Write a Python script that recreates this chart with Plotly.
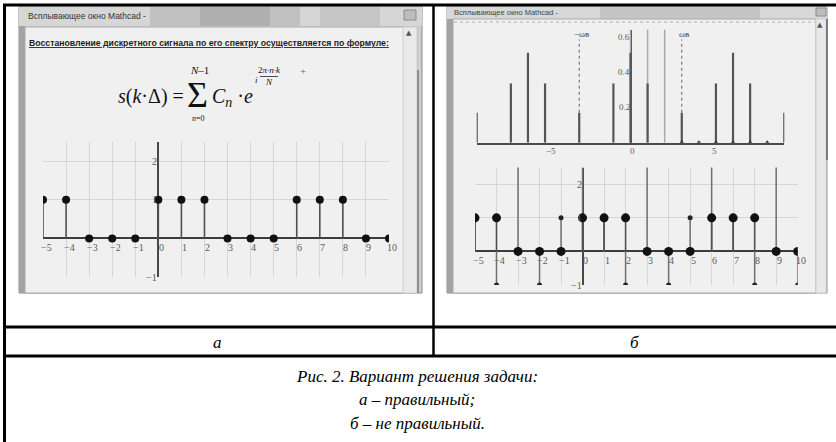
import math
import plotly.graph_objects as go

W, H = 836, 442

# ---------------- data ----------------
k_signal = list(range(-5, 11))
s_correct = [1, 1, 0, 0, 0, 1, 1, 1, 0, 0, 0, 1, 1, 1, 0, 0]
s_wrong = [1, -1, 3, -1, 1, 3, 1, -1, 3, -1, 1, 3, 1, -1, 3, -1]
sig_xtick_vals = list(range(-5, 11))
sig_xtick_text = ["−5", "−4", "−3", "−2", "−1", "0", "1", "2", "3", "4",
                  "5", "6", "7", "8", "9", "10"]
sig_ytick_vals = [2, 1, -1]
sig_ytick_text = ["2", "1", "−1"]

N = 6
k_spec = list(range(-9, 10))
spec_mag = [0.17, 0, 0.335, 0.51, 0.335, 0, 0.17, 0, 0.335, 0.51,
            0.335, 0, 0.17, 0, 0.335, 0.51, 0.335, 0, 0.17]
k_pulse = list(range(0, 9))
pulse_vals = [1, 1, 1, 0, 0, 0, 0, 0, 0]
wv_k = [-3, 3]
wv_top = [0.585, 0.585]
wv_text = ["−ωв", "ωв"]
spec_xtick_vals = [-5, 0, 5]
spec_xtick_text = ["−5", "0", "5"]
spec_ytick_vals = [0.2, 0.4, 0.6]
spec_ytick_text = ["0.2", "0.4", "0.6"]

cell_labels = ["а", "б"]
caption_lines = ["Рис. 2. Вариант решения задачи:",
                 "а – правильный;",
                 "б – не правильный."]
window_title = "Всплывающее окно Mathcad -"
formula_intro = "Восстановление дискретного сигнала по его спектру осуществляется по формуле:"


# ---------------- helpers ----------------
def px(x):
    return x / W


def py(y):
    return 1 - y / H


shapes = []
annotations = []


def rect(x0, y0, x1, y1, fill, line=None, lw=0, layer="below", opacity=1.0):
    shapes.append(dict(type="rect", xref="paper", yref="paper",
                       x0=px(x0), x1=px(x1), y0=py(y1), y1=py(y0),
                       fillcolor=fill, opacity=opacity, layer=layer,
                       line=dict(color=line or fill, width=lw)))


def hline(x0, x1, y, color, w, layer="below", dash="solid"):
    shapes.append(dict(type="line", xref="paper", yref="paper",
                       x0=px(x0), x1=px(x1), y0=py(y), y1=py(y), layer=layer,
                       line=dict(color=color, width=w, dash=dash)))


def vline(x, y0, y1, color, w, layer="below"):
    shapes.append(dict(type="line", xref="paper", yref="paper",
                       x0=px(x), x1=px(x), y0=py(y0), y1=py(y1), layer=layer,
                       line=dict(color=color, width=w)))


def text(x, y, t, size, family="Liberation Serif", color="#111",
         xanchor="center", yanchor="middle"):
    annotations.append(dict(x=px(x), y=py(y), xref="paper", yref="paper",
                            text=t, showarrow=False, xanchor=xanchor,
                            yanchor=yanchor,
                            font=dict(size=size, family=family, color=color)))


def stems(xs, ys):
    X, Y = [], []
    for x, y in zip(xs, ys):
        X += [x, x, None]
        Y += [0, y, None]
    return X, Y


# ---------------- window chrome ----------------
# left window
rect(19, 7, 422, 293, "#cfcfcf", "#8c8c8c", 1)
rect(19, 7, 422, 26, "#d6d6d6")
rect(150, 7, 300, 26, "#a8a8a8", opacity=0.45)
rect(200, 7, 270, 26, "#8e8e8e", opacity=0.35)
rect(320, 7, 380, 26, "#b0b0b0", opacity=0.4)
rect(19, 26, 25, 293, "#a3a3a3")
rect(25, 27, 417, 293, "#f0f0f0", "#a9a9a9", 1)
rect(403, 27, 417, 293, "#e9e9e9", "#d0d0d0", 1)
vline(418, 70, 293, "#8f8f8f", 2)
rect(404, 10, 416, 20, "#bdbdbd", "#8a8a8a", 1)
text(409, 33, "▲", 7, "DejaVu Sans", "#555")
text(26, 16, window_title, 8.5, "Liberation Sans", "#333", xanchor="left")
text(27, 43, "<b><u>" + formula_intro + "</u></b>", 8.7, "Liberation Sans",
     "#1e1e1e", xanchor="left")

# right window
rect(447, 7, 827, 293, "#cfcfcf", "#8c8c8c", 1)
rect(447, 7, 827, 19, "#d8d8d8")
rect(600, 7, 760, 19, "#a9a9a9", opacity=0.4)
rect(447, 19, 453, 293, "#a3a3a3")
rect(453, 19, 816, 293, "#f0f0f0", "#a9a9a9", 1)
hline(454, 815, 22, "#c4c4c4", 1.5, dash="dot")
rect(816, 19, 826, 293, "#e9e9e9", "#d0d0d0", 1)
vline(827, 19, 160, "#7c7c7c", 2)
rect(816, 8, 826, 16, "#bdbdbd", "#8a8a8a", 1)
text(820, 25, "▲", 7, "DejaVu Sans", "#555")
text(452, 12, window_title, 7.5, "Liberation Sans", "#444", xanchor="left")

# ---------------- formula ----------------
text(151, 96, "<i>s</i>(<i>k</i>·Δ) =", 20)
text(197, 95, "Σ", 36)
text(199, 70, "<i>N</i>–1", 11)
text(198, 119, "<i>n</i>=0", 8)
text(210, 97, "<i>C</i><sub><i>n</i></sub> ·<i>e</i>", 20, xanchor="left")
text(256, 80, "<i>i</i>", 9)
text(269, 70, "2<i>π·n·k</i>", 9)
hline(260, 278, 76.5, "#222", 0.8, layer="above")
text(269, 82, "<i>N</i>", 9)
text(303, 71, "+", 11, color="#666")

# ---------------- table ----------------
TL = "#000"
hline(3, 836, 5, TL, 3, layer="above")
vline(4.5, 4, 442, TL, 3, layer="above")
vline(433.5, 4, 356, TL, 2.5, layer="above")
hline(3, 836, 327, TL, 3, layer="above")
hline(3, 836, 356, TL, 3, layer="above")
text(218, 342, "<i>" + cell_labels[0] + "</i>", 17, color="#000")
text(634, 342, "<i>" + cell_labels[1] + "</i>", 17, color="#000")
for i, line in enumerate(caption_lines):
    text(417, 376 + 23.5 * i, "<i>" + line + "</i>", 17, color="#000")

# ---------------- traces ----------------
fig = go.Figure()
STEM = "#505050"

# plot a
X, Y = stems(k_signal, s_correct)
fig.add_trace(go.Scatter(x=X, y=Y, mode="lines", line=dict(color=STEM, width=1.6),
                         xaxis="x", yaxis="y", hoverinfo="skip"))
fig.add_trace(go.Scatter(x=k_signal, y=s_correct, mode="markers",
                         marker=dict(color="#111", size=8), xaxis="x", yaxis="y"))

# spectrum
step = 2 * math.pi / N
X, Y = stems([k * step for k in k_pulse], pulse_vals)
fig.add_trace(go.Scatter(x=X, y=Y, mode="lines", line=dict(color="#a9a9a9", width=1.5),
                         xaxis="x2", yaxis="y2", hoverinfo="skip"))
X, Y = stems([k * step for k in wv_k], wv_top)
fig.add_trace(go.Scatter(x=X, y=Y, mode="lines",
                         line=dict(color="#666", width=1, dash="dot"),
                         xaxis="x2", yaxis="y2", hoverinfo="skip"))
X, Y = stems([k * step for k in k_spec], spec_mag)
fig.add_trace(go.Scatter(x=X, y=Y, mode="lines", line=dict(color="#555", width=2.2),
                         xaxis="x2", yaxis="y2", hoverinfo="skip"))
fig.add_trace(go.Scatter(x=[k * step for k in k_pulse], y=pulse_vals, mode="markers",
                         marker=dict(color="#333", size=5, symbol="triangle-up"),
                         xaxis="x2", yaxis="y2"))

# plot b
X, Y = stems(k_signal, s_wrong)
fig.add_trace(go.Scatter(x=X, y=Y, mode="lines", line=dict(color="#707070", width=1.5),
                         xaxis="x3", yaxis="y3", hoverinfo="skip"))
X, Y = stems(k_signal, s_correct)
fig.add_trace(go.Scatter(x=X, y=Y, mode="lines", line=dict(color=STEM, width=1.6),
                         xaxis="x3", yaxis="y3", hoverinfo="skip"))
fig.add_trace(go.Scatter(x=k_signal, y=s_wrong, mode="markers",
                         marker=dict(color="#222", size=5), xaxis="x3", yaxis="y3"))
fig.add_trace(go.Scatter(x=k_signal, y=s_correct, mode="markers",
                         marker=dict(color="#111", size=9), xaxis="x3", yaxis="y3"))

# ---------------- tick label annotations ----------------
TF = dict(size=10, family="Liberation Serif", color="#5a5a5a")
for xa, ya in (("x", "y"), ("x3", "y3")):
    for v, t in zip(sig_xtick_vals, sig_xtick_text):
        annotations.append(dict(x=v, y=0, xref=xa, yref=ya, text=t, showarrow=False,
                                xanchor="center", yanchor="top", xshift=3, yshift=-2,
                                font=TF))
    for v, t in zip(sig_ytick_vals, sig_ytick_text):
        annotations.append(dict(x=0, y=v, xref=xa, yref=ya, text=t, showarrow=False,
                                xanchor="right", yanchor="middle", xshift=1, font=TF))
for v, t in zip(spec_xtick_vals, spec_xtick_text):
    annotations.append(dict(x=v, y=0, xref="x2", yref="y2", text=t, showarrow=False,
                            xanchor="center", yanchor="top", xshift=2, yshift=-1,
                            font=dict(size=9, family="Liberation Serif", color="#5a5a5a")))
for v, t in zip(spec_ytick_vals, spec_ytick_text):
    annotations.append(dict(x=0, y=v, xref="x2", yref="y2", text=t, showarrow=False,
                            xanchor="right", yanchor="middle", xshift=1,
                            font=dict(size=9, family="Liberation Serif", color="#5a5a5a")))
for k, top, t in zip(wv_k, wv_top, wv_text):
    annotations.append(dict(x=k * step, y=top, xref="x2", yref="y2", text=t,
                            showarrow=False, xanchor="center", yanchor="bottom",
                            xshift=2, yshift=-2,
                            font=dict(size=9, family="Liberation Serif", color="#444")))

# ---------------- axes ----------------
GRID = "#d6d6d6"


def sig_axes(xd, yd):
    xa = dict(domain=xd, range=[-5, 10], tickvals=sig_xtick_vals, showticklabels=False,
              ticks="", showgrid=True, gridcolor=GRID, gridwidth=1,
              zeroline=True, zerolinecolor="#474747", zerolinewidth=1.5,
              showline=False, fixedrange=True)
    ya = dict(domain=yd, range=[-1, 2.5], tickvals=[-1, 1, 2], showticklabels=False,
              ticks="", showgrid=True, gridcolor=GRID, gridwidth=1,
              zeroline=True, zerolinecolor="#3c3c3c", zerolinewidth=2,
              showline=False, fixedrange=True)
    return xa, ya


xa1, ya1 = sig_axes([px(43), px(389)], [py(277), py(142)])
xa3, ya3 = sig_axes([px(475), px(797.7)], [py(285), py(167.5)])
xa3["anchor"] = "y3"
ya3["anchor"] = "x3"

xa2 = dict(domain=[px(476.7), px(784.3)], range=[-3 * math.pi, 3 * math.pi],
           showgrid=False, showticklabels=False, ticks="",
           zeroline=True, zerolinecolor="#454545", zerolinewidth=2,
           showline=True, linecolor="#4a4a4a", linewidth=2, anchor="y2", fixedrange=True)
ya2 = dict(domain=[py(142.7), py(29.7)], range=[0, 0.64], showgrid=False,
           showticklabels=False, ticks="", zeroline=False, showline=False,
           anchor="x2", fixedrange=True)

fig.update_layout(
    width=W, height=H, autosize=False,
    margin=dict(l=0, r=0, t=0, b=0),
    paper_bgcolor="white", plot_bgcolor="rgba(0,0,0,0)",
    showlegend=False,
    xaxis=xa1, yaxis=ya1, xaxis2=xa2, yaxis2=ya2, xaxis3=xa3, yaxis3=ya3,
    shapes=shapes, annotations=annotations,
)

fig.write_html("out.html", config={"displayModeBar": False},
               post_script="document.body.style.margin='0';document.body.style.overflow='hidden';")
